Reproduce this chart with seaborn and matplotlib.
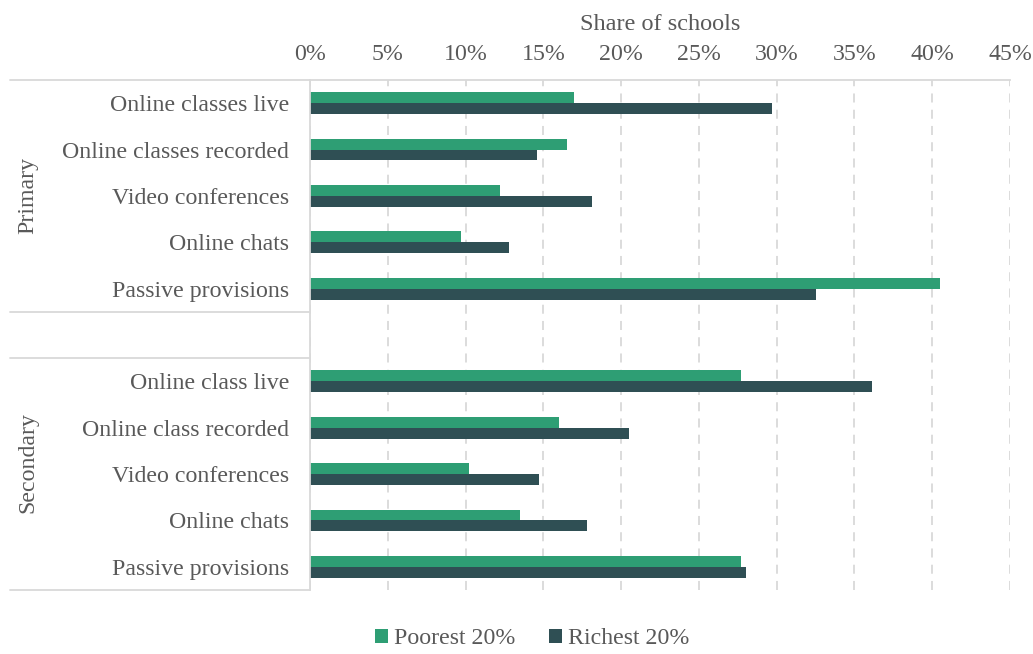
import matplotlib
matplotlib.use("Agg")
import matplotlib.pyplot as plt
import seaborn as sns
import pandas as pd
from matplotlib.lines import Line2D
from matplotlib.patches import Patch

groups = ["Primary", "Secondary"]
primary_cats = ["Online classes live", "Online classes recorded", "Video conferences",
                "Online chats", "Passive provisions"]
secondary_cats = ["Online class live", "Online class recorded", "Video conferences",
                  "Online chats", "Passive provisions"]
primary_poorest = [17.0, 16.5, 12.2, 9.7, 40.5]
primary_richest = [29.7, 14.6, 18.1, 12.8, 32.5]
secondary_poorest = [27.7, 16.0, 10.2, 13.5, 27.7]
secondary_richest = [36.1, 20.5, 14.7, 17.8, 28.0]
series = ["Poorest 20%", "Richest 20%"]
colors = ["#2E9E74", "#2F4F54"]
xticks = list(range(0, 50, 5))

rows = []
for g, cats, p, r in [("Primary", primary_cats, primary_poorest, primary_richest),
                      ("Secondary", secondary_cats, secondary_poorest, secondary_richest)]:
    for c, pv, rv in zip(cats, p, r):
        k = f"{g}|{c}"
        rows.append({"key": k, "series": series[0], "value": pv})
        rows.append({"key": k, "series": series[1], "value": rv})
df = pd.DataFrame(rows)
order = [f"Primary|{c}" for c in primary_cats] + ["spacer"] + [f"Secondary|{c}" for c in secondary_cats]
labels = primary_cats + [""] + secondary_cats

sns.set_style("white")
plt.rcParams["font.family"] = ["Liberation Serif", "DejaVu Serif"]
text_color = "#595959"
fs = 17.2

fig = plt.figure(figsize=(10.33, 6.54), dpi=100)
ax = fig.add_axes([310 / 1033, 64 / 654, 700 / 1033, 510 / 654])

sns.barplot(data=df, y="key", x="value", hue="series", order=order, hue_order=series,
            palette=colors, saturation=1, orient="h", width=0.47, ax=ax, legend=False,
            edgecolor="none", linewidth=0)

ax.set_xlim(0, 45)
ax.set_ylim(len(order) - 0.5, -0.5)
ax.set_xticks(xticks)
ax.set_xticklabels([f"{t}%" for t in xticks], fontsize=fs, color=text_color)
ax.xaxis.tick_top()
ax.xaxis.set_label_position("top")
ax.set_xlabel("Share of schools", fontsize=17.5, color=text_color, labelpad=10)
ax.tick_params(axis="x", length=0, pad=11)
ax.set_yticks(range(len(order)))
ax.set_yticklabels(labels, fontsize=fs, color=text_color)
ax.tick_params(axis="y", length=0, pad=15)
ax.set_ylabel("")

ax.grid(axis="x", color="#d9d9d9", linestyle=(0, (5, 4)), linewidth=1.3)
ax.set_axisbelow(True)
for s in ["right", "bottom"]:
    ax.spines[s].set_visible(False)
ax.spines["top"].set_color("#d9d9d9")
ax.spines["top"].set_linewidth(1.3)
ax.spines["left"].set_color("#d9d9d9")
ax.spines["left"].set_linewidth(1.3)

# category-group separators in the label area
H = 654
for ypix in [80, 312, 358, 590]:
    fig.add_artist(Line2D([10 / 1033, 310 / 1033], [1 - ypix / H, 1 - ypix / H],
                          color="#d9d9d9", linewidth=1.3))

# group labels
ax.text(-282 / 700 * 45, 2, "Primary", rotation=90, va="center", ha="center",
        fontsize=fs, color=text_color, transform=ax.transData)
ax.text(-282 / 700 * 45, 7.75, "Secondary", rotation=90, va="center", ha="center",
        fontsize=fs, color=text_color, transform=ax.transData)

handles = [Patch(facecolor=c, edgecolor="none") for c in colors]
fig.legend(handles, series, loc="center", bbox_to_anchor=(532 / 1033, 15 / 654),
           ncol=2, frameon=False, fontsize=fs, handlelength=0.55, handleheight=0.55,
           handletextpad=0.25, columnspacing=1.4, labelcolor=text_color)

fig.savefig("out.png", dpi=100)
